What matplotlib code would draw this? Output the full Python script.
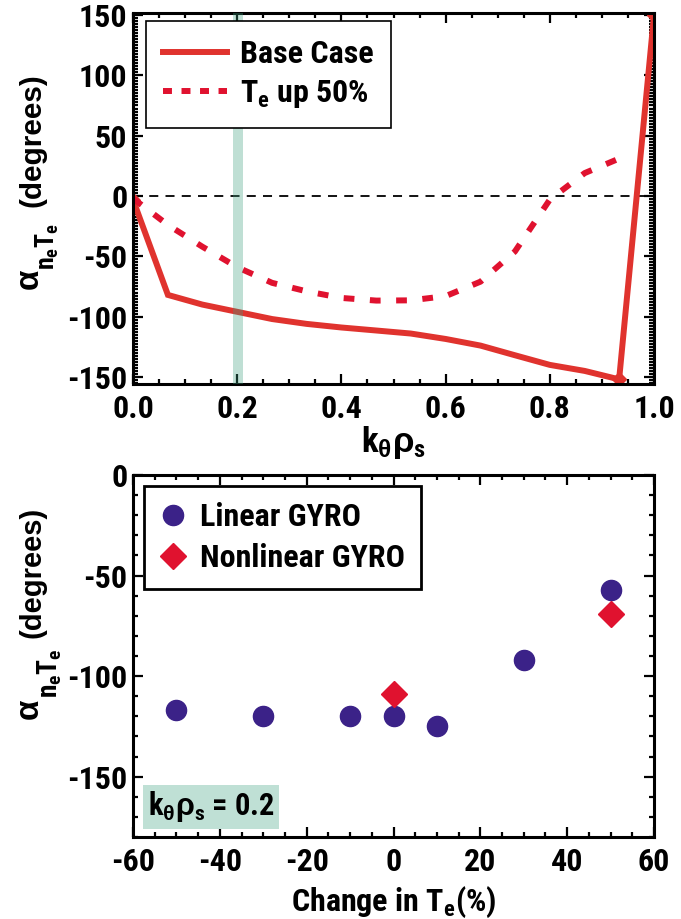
import matplotlib
matplotlib.use('Agg')
import matplotlib.pyplot as plt
from matplotlib import font_manager as fm
from matplotlib.ticker import MultipleLocator
from matplotlib.lines import Line2D

installed = set(f.name for f in fm.fontManager.ttflist)
narrow = next((n for n in ['Liberation Sans Narrow', 'Arial Narrow', 'Nimbus Sans Narrow',
                           'Roboto Condensed', 'Archivo Narrow', 'PT Sans Narrow',
                           'Liberation Sans'] if n in installed), 'DejaVu Sans')
wide = next((n for n in ['Liberation Sans', 'Arimo', 'Arial', 'Helvetica']
             if n in installed), 'DejaVu Sans')

plt.rcParams['font.family'] = [narrow, 'DejaVu Sans']
plt.rcParams['font.weight'] = 'bold'
plt.rcParams['axes.labelweight'] = 'bold'
plt.rcParams['axes.unicode_minus'] = False
plt.rcParams['mathtext.fontset'] = 'custom'
plt.rcParams['mathtext.rm'] = wide
plt.rcParams['mathtext.it'] = wide
plt.rcParams['mathtext.bf'] = narrow + ':bold'

# top panel: phase angle vs k_theta rho_s
k_base = [0.0, 0.067, 0.133, 0.2, 0.267, 0.333, 0.4, 0.467, 0.533, 0.6,
          0.667, 0.733, 0.8, 0.867, 0.933, 1.0]
alpha_base = [-3, -82, -90, -96, -102, -106, -109, -111.5, -114, -118.5,
              -124, -132, -140, -145, -152, 150]
k_te50 = [0.0, 0.067, 0.133, 0.2, 0.267, 0.333, 0.4, 0.467, 0.533, 0.6,
          0.667, 0.733, 0.8, 0.867, 0.933]
alpha_te50 = [-2, -24, -42, -59, -72, -79, -84.5, -86.7, -86.5, -83,
              -71, -46, -3, 19, 31]

# bottom panel: phase angle vs change in Te at k_theta rho_s = 0.2
dte_lin = [-50, -30, -10, 0, 10, 30, 50]
alpha_lin = [-117, -120, -120, -120, -125, -92, -57]
dte_nl = [0, 50]
alpha_nl = [-109, -69]

red = '#e0332e'
red2 = '#e0122f'
purple = '#3b2288'
band = '#3da07f'

W, H = 681, 919
fig = plt.figure(figsize=(6.81, 9.19), dpi=100)
ax1 = fig.add_axes([0.1953, 0.5822, 0.7651, 0.4037])
ax2 = fig.add_axes([0.1953, 0.0892, 0.7651, 0.3939])

def style(ax):
    for s in ax.spines.values():
        s.set_linewidth(2.2)
    ax.tick_params(which='both', direction='in', top=True, right=True,
                   width=1.6, labelsize=23)
    ax.tick_params(which='major', length=7)
    ax.tick_params(which='minor', length=3.5)
    ax.tick_params(axis='x', pad=7)
    ax.tick_params(axis='y', pad=4)

# ---- top
ax1.plot(k_base, alpha_base, color=red, lw=4.3, solid_joinstyle='miter',
         marker='D', ms=7, markevery=[0, 14, 15], zorder=2)
ax1.plot(k_te50, alpha_te50, color=red2, lw=4.3, dashes=(1.8, 2.6), zorder=2)
ax1.axhline(0, color='black', lw=1.3, dashes=(5, 4), zorder=1)
ax1.axvspan(0.192, 0.212, color=band, alpha=0.33, lw=0, zorder=3)
ax1.set_xlim(0, 1)
ax1.set_ylim(-155.8, 151.7)
ax1.xaxis.set_major_locator(MultipleLocator(0.2))
ax1.xaxis.set_minor_locator(MultipleLocator(0.05))
ax1.yaxis.set_major_locator(MultipleLocator(50))
ax1.yaxis.set_minor_locator(MultipleLocator(2.5))
style(ax1)
ax1.set_xticklabels([f'{v:.1f}' for v in ax1.get_xticks()])
ax1.set_xlabel(r'$\mathbf{k}_{\theta}\rho_{\mathbf{s}}$', fontsize=25, labelpad=0)

h1 = [Line2D([], [], color=red, lw=4.3),
      Line2D([], [], color=red2, lw=4.3, dashes=(1.5, 1.6))]
leg1 = ax1.legend(h1, ['Base Case', r'T$_{\mathbf{e}}$ up 50%'],
                  loc='upper left', bbox_to_anchor=(0.024, 0.978),
                  borderaxespad=0, fontsize=23, handlelength=2.0,
                  handletextpad=0.4, labelspacing=0.3, borderpad=0.55,
                  fancybox=False, framealpha=1, edgecolor='black')
leg1.get_frame().set_linewidth(1.2)
leg1.set_zorder(5)

# ---- bottom
ax2.plot(dte_lin, alpha_lin, 'o', color=purple, ms=14.5, ls='none',
         label='Linear GYRO')
ax2.plot(dte_nl, alpha_nl, 'D', color=red2, ms=13, ls='none',
         label='Nonlinear GYRO')
ax2.set_xlim(-60, 60)
ax2.set_ylim(-180, 0)
ax2.xaxis.set_major_locator(MultipleLocator(20))
ax2.xaxis.set_minor_locator(MultipleLocator(5))
ax2.yaxis.set_major_locator(MultipleLocator(50))
ax2.yaxis.set_minor_locator(MultipleLocator(10))
style(ax2)
ax2.set_xlabel(r'Change in T$_{\mathbf{e}}$(%)', fontsize=23, labelpad=6)
leg2 = ax2.legend(loc='upper left', bbox_to_anchor=(0.021, 0.97),
                  borderaxespad=0, fontsize=23, handlelength=0.85,
                  handletextpad=0.4, labelspacing=0.35, borderpad=0.5,
                  numpoints=1, fancybox=False, framealpha=1, edgecolor='black')
leg2.get_frame().set_linewidth(2.0)
ax2.text(0.028, 0.035, r'$\mathbf{k}_{\theta}\rho_{\mathbf{s}}$ = 0.2',
         transform=ax2.transAxes, fontsize=22, ha='left', va='bottom',
         bbox=dict(boxstyle='square,pad=0.15', fc='#bfe0d5', ec='none'))

renderer = fig.canvas.get_renderer()

def fit(t, length):
    # scale font so the rotated text spans the given number of pixels
    h = t.get_window_extent(renderer).height
    t.set_fontsize(t.get_fontsize() * length / h)

# y labels: alpha, big subscript n_e T_e, then (degrees), all rotated
def ylabel(y_alpha, y_sub, y_deg, x_sub, len_sub, len_deg):
    kw = dict(rotation=90, rotation_mode='anchor', ha='left', va='baseline')
    fig.text(39 / W, 1 - y_alpha / H, r'$\alpha$', fontsize=24, **kw)
    t = fig.text(x_sub / W, 1 - y_sub / H, r'n$_{\mathbf{e}}$T$_{\mathbf{e}}$',
                 fontsize=18, **kw)
    fit(t, len_sub)
    t = fig.text(41 / W, 1 - y_deg / H, '(degrees)', fontsize=22,
                 family=[wide, 'DejaVu Sans'], **kw)
    fit(t, len_deg)

ylabel(291, 270, 207, 55, 47, 134)
ylabel(721, 698, 638, 57, 50, 131)

fig.savefig('out.png', dpi=100)
